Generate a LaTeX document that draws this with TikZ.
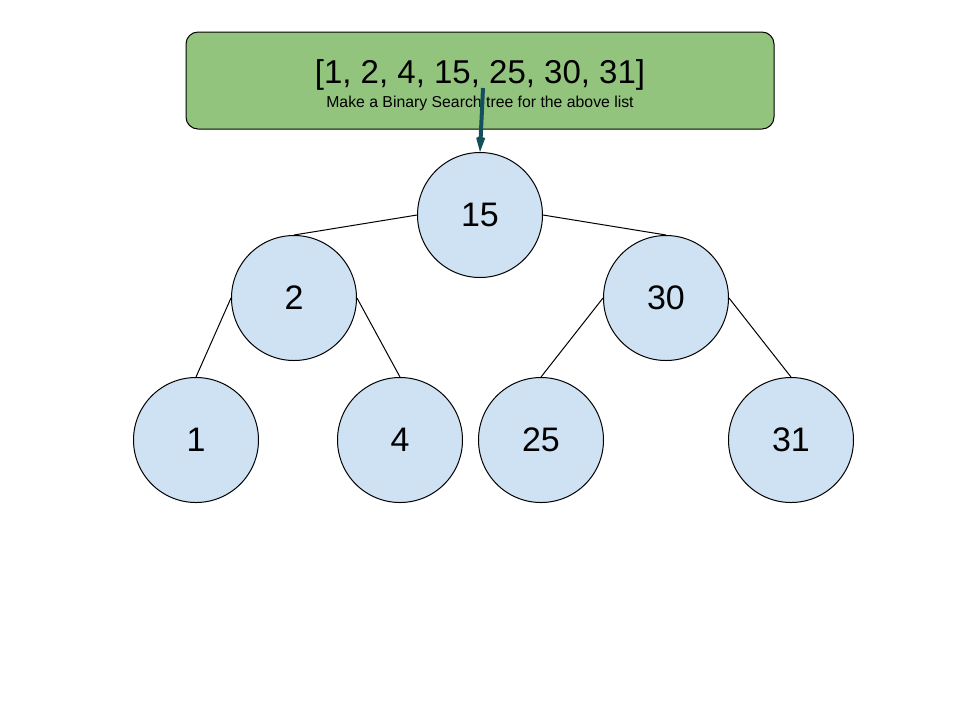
\documentclass[tikz,border=0pt]{standalone}
\usepackage{fontspec}
\setmainfont{Liberation Sans}
\usepackage{xcolor}
\definecolor{bstGreen}{HTML}{93C47D}
\definecolor{bstNode}{HTML}{CFE2F3}
\definecolor{bstTeal}{HTML}{134F5C}
\usetikzlibrary{arrows.meta,positioning}
\tikzset{
    listbox/.style={
        draw=black,
        fill=bstGreen,
        rectangle,
        rounded corners=6pt,
        minimum width=294pt,
        minimum height=48.5pt,
        line width=0.5pt
    },
    listtext/.style={
        anchor=base,
        inner sep=0pt
    },
    treenode/.style={
        draw=black,
        fill=bstNode,
        circle,
        minimum size=62.5pt,
        inner sep=0pt,
        line width=0.5pt,
        font=\fontsize{17}{20}\selectfont
    },
    branch/.style={
        line width=0.5pt,
        color=black
    },
    pointer/.style={
        -{Stealth[length=14pt,width=9pt,inset=8pt]},
        line width=2pt,
        color=bstTeal
    }
}

\begin{document}
\begin{tikzpicture}[x=0.5pt,y=-0.5pt]
    \useasboundingbox (0,0) rectangle (960,720);

    % Input list
    \node[listbox] (list) at (480,80.5) {};
    \node[listtext, font=\fontsize{16.5}{19}\selectfont] (title) at (480,83.3)
        {[1, 2, 4, 15, 25, 30, 31]};
    \node[listtext, font=\fontsize{7.9}{9}\selectfont] (task) at (480,107.3)
        {Make a Binary Search tree for the above list};

    % Tree nodes
    \node[treenode] (root) at (480,215) {15};
    \node[treenode] (two) at (294,298) {2};
    \node[treenode] (thirty) at (666,298) {30};
    \node[treenode] (one) at (196,440) {1};
    \node[treenode] (four) at (400,440) {4};
    \node[treenode] (twentyfive) at (541,440) {25};
    \node[treenode] (thirtyone) at (791,440) {31};

    % Branches
    \draw[branch] (root.west) -- (two.north);
    \draw[branch] (root.east) -- (thirty.north);
    \draw[branch] (two.west) -- (one.north);
    \draw[branch] (two.east) -- (four.north);
    \draw[branch] (thirty.west) -- (twentyfive.north);
    \draw[branch] (thirty.east) -- (thirtyone.north);

    % Arrow from list to root
    \coordinate (tail) at (483,88);
    \draw[pointer] (tail) -- (root.north);
\end{tikzpicture}
\end{document}
